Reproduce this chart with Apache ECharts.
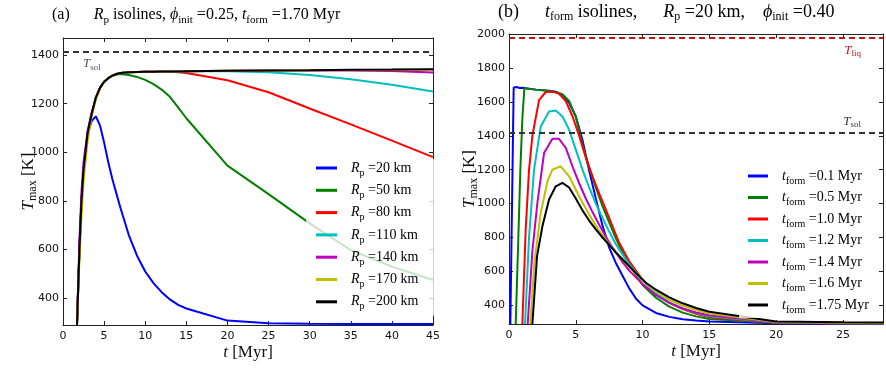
<!DOCTYPE html>
<html><head><meta charset="utf-8">
<script src="https://cdn.jsdelivr.net/npm/echarts@6/dist/echarts.min.js"></script>
<style>html,body{margin:0;padding:0;background:#fff}#c{width:886px;height:368px}</style>
</head><body><div id="c"></div>
<script>
const SERIF = "'Liberation Serif','DejaVu Serif',serif";
const SANS = "'DejaVu Sans','Bitstream Vera Sans',sans-serif";

// ---------- Panel (a): R_p isolines ----------
const tA = [1.7, 2.0, 2.25, 2.5, 3, 3.5, 4, 4.5, 5, 5.5, 6, 6.5, 7, 8, 9, 10, 11, 12, 13, 14, 15, 20, 25, 30, 35, 40, 45];
const namesA = ['R_p =20 km', 'R_p =50 km', 'R_p =80 km', 'R_p =110 km', 'R_p =140 km', 'R_p =170 km', 'R_p =200 km'];
const TA_20  = [290, 600, 800, 930, 1075, 1130, 1148, 1110, 1040, 960, 890, 830, 770, 660, 575, 510, 462, 425, 395, 373, 358, 308, 297, 295, 294, 294, 294];
const TA_50  = [290, 600, 800, 930, 1080, 1160, 1225, 1265, 1290, 1305, 1314, 1320, 1322, 1318, 1310, 1298, 1280, 1258, 1228, 1185, 1140, 945, 828, 708, 598, 530, 475];
const TA_80  = [290, 600, 800, 930, 1080, 1160, 1225, 1265, 1290, 1305, 1315, 1322, 1326, 1329, 1330, 1331, 1331, 1331, 1331, 1329, 1326, 1296, 1247, 1180, 1115, 1048, 980];
const TA_110 = [290, 600, 800, 930, 1080, 1160, 1225, 1265, 1290, 1305, 1315, 1322, 1326, 1329, 1330, 1331, 1331, 1332, 1332, 1332, 1333, 1333, 1329, 1318, 1300, 1278, 1250];
const TA_140 = [290, 640, 840, 960, 1090, 1165, 1225, 1265, 1290, 1305, 1315, 1322, 1326, 1329, 1330, 1331, 1331, 1332, 1332, 1332, 1333, 1335, 1336, 1336, 1336, 1334, 1328];
const TA_170 = [290, 560, 740, 880, 1050, 1150, 1220, 1262, 1290, 1305, 1315, 1322, 1326, 1329, 1330, 1331, 1331, 1332, 1332, 1332, 1333, 1335, 1336, 1337, 1338, 1339, 1339];
const TA_200 = [290, 600, 800, 930, 1080, 1160, 1225, 1265, 1290, 1305, 1315, 1322, 1326, 1329, 1330, 1331, 1331, 1332, 1332, 1332, 1333, 1335, 1336, 1337, 1339, 1340, 1342];
const valuesA = [TA_20, TA_50, TA_80, TA_110, TA_140, TA_170, TA_200];
const xTicksA = [0, 5, 10, 15, 20, 25, 30, 35, 40, 45];
const yTicksA = [400, 600, 800, 1000, 1200, 1400];
const TsolA = 1413;

// ---------- Panel (b): t_form isolines ----------
const namesB = ['t_form =0.1 Myr', 't_form =0.5 Myr', 't_form =1.0 Myr', 't_form =1.2 Myr', 't_form =1.4 Myr', 't_form =1.6 Myr', 't_form =1.75 Myr'];
const tB_01 = [0.1, 0.35, 0.6, 0.8, 1.0, 2, 3, 3.5, 4, 4.5, 5, 5.5, 6, 6.5, 7, 7.5, 8, 8.5, 9, 9.5, 10, 11, 12, 13, 14, 15, 20, 25, 30];
const TB_01 = [290, 1685, 1687, 1682, 1683, 1672, 1665, 1660, 1640, 1595, 1515, 1375, 1195, 1030, 870, 740, 650, 575, 500, 440, 400, 355, 332, 318, 310, 305, 294, 293, 292];
const tB_05 = [0.5, 0.7, 0.85, 1.0, 1.15, 2, 3, 3.5, 4, 4.5, 5, 5.5, 6, 6.5, 7, 7.5, 8, 8.5, 9, 9.5, 10, 11, 12, 13, 14, 15, 20, 25, 30];
const TB_05 = [290, 800, 1200, 1500, 1680, 1672, 1664, 1658, 1645, 1605, 1510, 1345, 1215, 1095, 985, 890, 795, 710, 640, 578, 520, 445, 392, 357, 335, 320, 297, 294, 293];
const tB_10 = [1.0, 1.25, 1.5, 1.75, 2.25, 2.75, 3.25, 3.75, 4.25, 4.75, 5.25, 5.75, 6.25, 6.75, 7.25, 7.75, 8.25, 9, 10, 11, 12, 13, 14, 15, 20, 25, 30];
const TB_10 = [290, 850, 1200, 1400, 1610, 1658, 1660, 1647, 1605, 1515, 1400, 1270, 1161, 1060, 965, 865, 769, 660, 550, 470, 415, 378, 350, 330, 298, 295, 293];
const tB_12 = [1.2, 1.5, 1.875, 2.375, 3.0, 3.5, 4.0, 4.5, 5.0, 5.5, 6.0, 6.5, 7, 7.5, 8, 9, 10, 11, 12, 13, 14, 15, 20, 25, 30];
const TB_12 = [290, 800, 1200, 1455, 1543, 1549, 1514, 1435, 1318, 1200, 1095, 1000, 915, 835, 760, 640, 548, 470, 418, 382, 355, 335, 299, 295, 294];
const tB_14 = [1.4, 1.75, 2.125, 2.625, 3.25, 3.75, 4.25, 4.75, 5.25, 5.75, 6.25, 6.75, 7.25, 7.75, 8.5, 9, 10, 11, 12, 13, 14, 15, 20, 25, 30];
const TB_14 = [290, 720, 1004, 1298, 1382, 1382, 1328, 1220, 1120, 1030, 950, 875, 805, 740, 655, 605, 525, 460, 415, 382, 358, 342, 300, 296, 294];
const tB_16 = [1.6, 1.9, 2.375, 2.875, 3.25, 3.875, 4.5, 5.25, 6, 6.75, 7.5, 8.25, 9, 10, 11, 12, 13, 14, 15, 20, 25, 30];
const TB_16 = [290, 650, 945, 1131, 1200, 1220, 1161, 1043, 935, 840, 760, 690, 625, 545, 482, 433, 398, 372, 352, 302, 297, 295];
const tB_175 = [1.75, 2.1, 2.5, 3.0, 3.5, 4.0, 4.5, 5.0, 5.5, 6.0, 6.5, 7.0, 7.5, 8, 8.75, 9.5, 10.25, 11, 12, 13, 14, 15, 20, 25, 30];
const TB_175 = [290, 690, 866, 1024, 1102, 1122, 1095, 1030, 960, 900, 848, 800, 757, 712, 651, 590, 533, 492, 447, 412, 384, 362, 305, 300, 298];
const timesB = [tB_01, tB_05, tB_10, tB_12, tB_14, tB_16, tB_175];
const valuesB = [TB_01, TB_05, TB_10, TB_12, TB_14, TB_16, TB_175];
const xTicksB = [0, 5, 10, 15, 20, 25];
const yTicksB = [400, 600, 800, 1000, 1200, 1400, 1600, 1800, 2000];
const TsolB = 1415;
const TliqB = 1975;

const colors = ['#0000ff', '#008000', '#ff0000', '#00bfbf', '#bf00bf', '#bfbf00', '#000000'];

// ---------- helpers ----------
function rich(fs, sfs, lh, color, gaps) {
  const g = gaps || [24, 20, 13];
  return {
    n: {fontFamily: SERIF, fontSize: fs, lineHeight: lh, verticalAlign: 'middle', color: color},
    i: {fontFamily: SERIF, fontSize: fs, lineHeight: lh, fontStyle: 'italic', verticalAlign: 'middle', color: color},
    i0: {fontFamily: SERIF, fontSize: fs, lineHeight: lh, fontStyle: 'italic', verticalAlign: 'middle', color: color, padding: [0, 0, 0, 9]},
    s: {fontFamily: SERIF, fontSize: sfs, lineHeight: sfs, verticalAlign: 'bottom', color: color},
    ga: {fontFamily: SERIF, fontSize: fs, lineHeight: lh, verticalAlign: 'middle', width: g[0]},
    gb: {fontFamily: SERIF, fontSize: fs, lineHeight: lh, verticalAlign: 'middle', width: g[1]},
    gc: {fontFamily: SERIF, fontSize: fs, lineHeight: lh, verticalAlign: 'middle', width: g[2]}
  };
}
function legFmt(name) {
  return name.replace(/^(\S)_(\S+)(.*)$/, '{i0|$1}{s|$2}{n|$3}');
}
const axisCol = '#222';
const plain = v => String(v);
function xAx(grid, max, ticks, pos, labels) {
  return {
    type: 'value', gridIndex: grid, min: 0, max: max, position: pos,
    axisLine: {show: true, onZero: false, lineStyle: {color: axisCol, width: 1}},
    axisTick: {show: true, inside: true, length: 4, customValues: ticks, lineStyle: {color: axisCol}},
    axisLabel: {show: labels, customValues: ticks, formatter: plain, margin: 6, fontFamily: SANS, fontSize: 11, color: '#111'},
    splitLine: {show: false},
    name: labels ? '{i|t}{n| [Myr]}' : '', nameLocation: 'middle', nameGap: 18, nameMoveOverlap: false,
    nameTextStyle: {rich: rich(17, 12, 20, '#111')}
  };
}
function yAx(grid, min, max, ticks, pos, labels, gap) {
  return {
    type: 'value', gridIndex: grid, min: min, max: max, position: pos,
    axisLine: {show: true, onZero: false, lineStyle: {color: axisCol, width: 1}},
    axisTick: {show: true, inside: true, length: 4, customValues: ticks, lineStyle: {color: axisCol}},
    axisLabel: {show: labels, customValues: ticks, formatter: plain, margin: 4, fontFamily: SANS, fontSize: 11, color: '#111'},
    splitLine: {show: false},
    name: labels ? '{i|T}{s|max}{n| [K]}' : '', nameLocation: 'middle', nameGap: gap, nameRotate: 90, nameMoveOverlap: false,
    nameTextStyle: {rich: rich(17, 12, 20, '#111')}
  };
}
function mlLabel(sub, color, pos, pad) {
  return {show: true, position: pos, formatter: '{i|T}{s|' + sub + '}', padding: pad, distance: 4,
          rich: rich(13, 9, 16, color)};
}

const series = [];
namesA.forEach((nm, k) => {
  const s = {
    name: nm, type: 'line', xAxisIndex: 0, yAxisIndex: 0, showSymbol: false, symbol: 'none',
    data: tA.map((t, j) => [t, valuesA[k][j]]), lineStyle: {width: 2, color: colors[k]}, itemStyle: {color: colors[k]},
    animation: false, clip: true, z: 2
  };
  if (k === 0) {
    s.markLine = {silent: true, symbol: 'none', animation: false,
      lineStyle: {color: '#333', type: [6, 4], width: 2},
      data: [{yAxis: TsolA, label: mlLabel('sol', '#555', 'insideStartBottom', [0, 0, 0, 16])}]};
  }
  series.push(s);
});
namesB.forEach((nm, k) => {
  const s = {
    name: nm, type: 'line', xAxisIndex: 2, yAxisIndex: 2, showSymbol: false, symbol: 'none',
    data: timesB[k].map((t, j) => [t, valuesB[k][j]]), lineStyle: {width: 2, color: colors[k]}, itemStyle: {color: colors[k]},
    animation: false, clip: true, z: 2
  };
  if (k === 0) {
    s.markLine = {silent: true, symbol: 'none', animation: false,
      data: [
        {yAxis: TsolB, lineStyle: {color: '#333', type: [6, 4], width: 2}, label: mlLabel('sol', '#333', 'insideEndTop', [0, 18, 0, 0])},
        {yAxis: TliqB, lineStyle: {color: '#cc1111', type: [6, 4], width: 2}, label: mlLabel('liq', '#cc1111', 'insideEndBottom', [0, 18, 0, 0])}
      ]};
  }
  series.push(s);
});

const chart = echarts.init(document.getElementById('c'), null, {renderer: 'canvas'});
chart.setOption({
  backgroundColor: '#fff',
  animation: false,
  title: [
    {left: 52, top: 4, padding: 0, text: '{n|(a)}{ga| }{i|R}{s|p}{n| isolines, }{i|ϕ}{s|init}{n| =0.25, }{i|t}{s|form}{n| =1.70 Myr}',
     textStyle: {fontWeight: 'normal', rich: rich(16, 11, 22, '#000')}},
    {left: 498, top: 1, padding: 0, text: '{n|(b)}{ga| }{i|t}{s|form}{n| isolines,}{gb| }{i|R}{s|p}{n| =20 km,}{gc| }{i|ϕ}{s|init}{n| =0.40}',
     textStyle: {fontWeight: 'normal', rich: rich(18, 12, 22, '#000', [26, 26, 18])}}
  ],
  grid: [
    {left: 63, top: 38, width: 370, height: 287, containLabel: false},
    {left: 509, top: 34, width: 374, height: 290, containLabel: false}
  ],
  xAxis: [
    xAx(0, 45, xTicksA, 'bottom', true),
    xAx(0, 45, xTicksA, 'top', false),
    xAx(1, 28, xTicksB, 'bottom', true),
    xAx(1, 28, xTicksB, 'top', false)
  ],
  yAxis: [
    yAx(0, 290, 1470, yTicksA, 'left', true, 24),
    yAx(0, 290, 1470, yTicksA, 'right', false, 0),
    yAx(1, 290, 2000, yTicksB, 'left', true, 29),
    yAx(1, 290, 2000, yTicksB, 'right', false, 0)
  ],
  legend: [
    {data: namesA, orient: 'vertical', left: 306, top: 159, padding: [2, 16, 4, 10], itemGap: 5.3,
     icon: 'rect', itemWidth: 21, itemHeight: 3, backgroundColor: 'rgba(255,255,255,0.78)', borderWidth: 0,
     selectedMode: false, formatter: legFmt, textStyle: {rich: rich(14, 10, 20, '#000')}},
    {data: namesB, orient: 'vertical', left: 739, top: 166, padding: [3, 8, 3, 9], itemGap: 4.5,
     icon: 'rect', itemWidth: 20, itemHeight: 3, backgroundColor: 'rgba(255,255,255,0.78)', borderWidth: 0,
     selectedMode: false, formatter: legFmt, textStyle: {rich: rich(14, 10, 20, '#000')}}
  ],
  series: series
});
</script>
</body></html>
